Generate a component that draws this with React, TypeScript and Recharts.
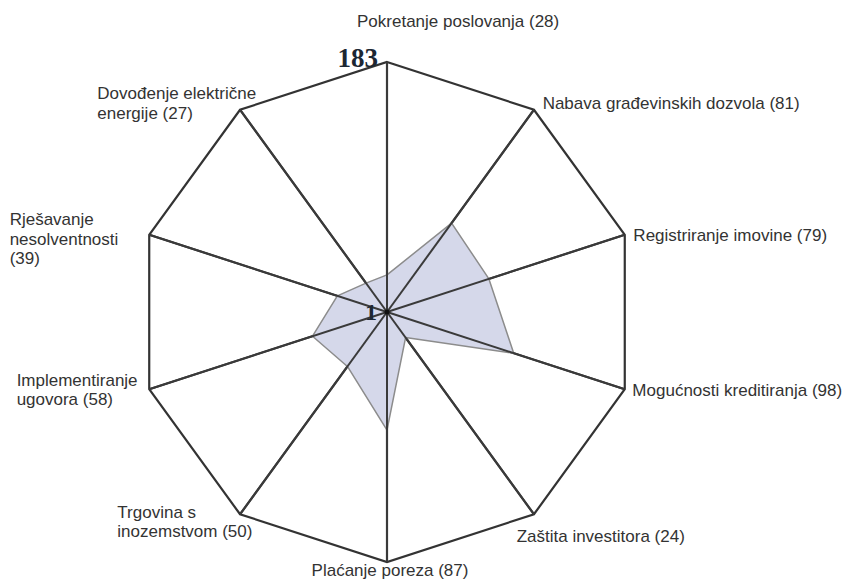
import React from 'react';
import { RadarChart, Radar, PolarGrid, PolarAngleAxis, PolarRadiusAxis } from 'recharts';

const categories = [
  'Pokretanje poslovanja (28)',
  'Nabava građevinskih dozvola (81)',
  'Registriranje imovine (79)',
  'Mogućnosti kreditiranja (98)',
  'Zaštita investitora (24)',
  'Plaćanje poreza (87)',
  'Trgovina s\ninozemstvom (50)',
  'Implementiranje\nugovora (58)',
  'Rješavanje\nnesolventnosti\n(39)',
  'Dovođenje električne\nenergije (27)',
];
const ranks = [28, 81, 79, 98, 24, 87, 50, 58, 39, 27];
const radiusTicks = [1, 183];

const data = categories.map((c, i) => ({ category: c, rank: ranks[i] }));

const OUTER = 250;

// label layout offsets relative to the tick anchor point (styling, not data)
const labelLayout = [
  { dx: -30, dy: -27, anchor: 'start' },
  { dx: 4, dy: 6, anchor: 'start' },
  { dx: 1, dy: 9, anchor: 'start' },
  { dx: 0, dy: 4, anchor: 'start' },
  { dx: -22, dy: 21, anchor: 'start' },
  { dx: 3, dy: 6, anchor: 'middle' },
  { dx: -118, dy: -3, anchor: 'start' },
  { dx: -125, dy: -6, anchor: 'start' },
  { dx: -132, dy: -7, anchor: 'start' },
  { dx: -138, dy: -4, anchor: 'start' },
];

const AngleTick = (props: any) => {
  const { x, y, payload, index } = props;
  const lay = labelLayout[index] || { dx: 0, dy: 0, anchor: 'middle' };
  const lines = String(payload.value).split('\n');
  return (
    <text
      x={x + lay.dx}
      y={y + lay.dy}
      textAnchor={lay.anchor}
      fontSize={17}
      fontFamily="'Liberation Sans', Arial, sans-serif"
      fill="#333"
    >
      {lines.map((l: string, i: number) => (
        <tspan key={i} x={x + lay.dx} dy={i === 0 ? 0 : 19.5}>
          {l}
        </tspan>
      ))}
    </text>
  );
};

const RadiusTick = (props: any) => {
  const { x, y, payload } = props;
  const isMax = payload.value === 183;
  return (
    <text
      x={x - (isMax ? 9 : 10)}
      y={y + (isMax ? 5 : 8)}
      textAnchor="end"
      fontSize={isMax ? 27 : 24}
      fontWeight="bold"
      fontFamily="'Liberation Serif', 'DejaVu Serif', serif"
      fill="#1c2733"
    >
      {payload.value}
    </text>
  );
};

// polygon with the radial spokes redrawn on top (as in the reference)
const RadarShape = (props: any) => {
  const { points, fill, stroke, strokeWidth } = props;
  if (!points || !points.length) return null;
  const d =
    points.map((p: any, i: number) => `${i === 0 ? 'M' : 'L'}${p.x},${p.y}`).join(' ') + ' Z';
  return (
    <g>
      <path d={d} fill={fill} stroke={stroke} strokeWidth={strokeWidth} strokeLinejoin="round" />
      {points.map((p: any, i: number) => {
        const rad = (-p.angle * Math.PI) / 180;
        const x2 = p.cx + OUTER * Math.cos(rad);
        const y2 = p.cy + OUTER * Math.sin(rad);
        return <line key={i} x1={p.cx} y1={p.cy} x2={x2} y2={y2} stroke="#3a3a3a" strokeWidth={2} />;
      })}
      <circle cx={points[0].cx} cy={points[0].cy} r={2.5} fill="#111" />
    </g>
  );
};

export default function App() {
  return (
    <div style={{ position: 'absolute', left: 0, top: 0, background: '#fff' }}>
      <RadarChart
        width={849}
        height={582}
        data={data}
        cx={387}
        cy={312}
        outerRadius={OUTER}
        margin={{ top: 0, right: 0, bottom: 0, left: 0 }}
      >
        <PolarGrid gridType="polygon" polarRadius={[OUTER]} stroke="#333" strokeWidth={2.2} />
        <Radar
          dataKey="rank"
          stroke="#8c8c8c"
          strokeWidth={1.5}
          fill="#d5d8ea"
          fillOpacity={1}
          shape={<RadarShape />}
          isAnimationActive={false}
        />
        <PolarAngleAxis dataKey="category" tick={<AngleTick />} tickLine={false} axisLine={false} />
        <PolarRadiusAxis
          angle={90}
          domain={[1, 183]}
          ticks={radiusTicks}
          type="number"
          axisLine={false}
          tick={<RadiusTick />}
        />
      </RadarChart>
    </div>
  );
}
